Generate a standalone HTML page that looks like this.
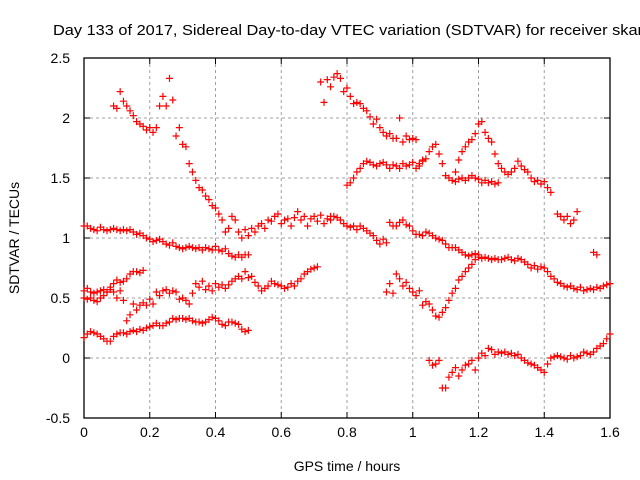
<!DOCTYPE html>
<html><head><meta charset="utf-8"><style>
body{margin:0;background:#fff;overflow:hidden;}
svg{display:block;font-family:"Liberation Sans",Arial,sans-serif;}
</style></head><body>
<svg id="chart" width="640" height="480" viewBox="0 0 640 480" xmlns="http://www.w3.org/2000/svg">
<text x="53" y="35" font-size="14.5" textLength="590" lengthAdjust="spacingAndGlyphs" fill="#000">Day 133 of 2017, Sidereal Day-to-day VTEC variation (SDTVAR) for receiver skar</text>
<g id="grid"></g>
<g id="axes"></g>
<g id="marks"></g>
<text transform="translate(19,238) rotate(-90)" text-anchor="middle" font-size="14">SDTVAR / TECUs</text>
<text x="347" y="471" text-anchor="middle" font-size="14">GPS time / hours</text>
</svg>
<script>
const xTicks=[0,0.2,0.4,0.6,0.8,1,1.2,1.4,1.6];
const xTickLabels=["0","0.2","0.4","0.6","0.8","1","1.2","1.4","1.6"];
const yTicks=[-0.5,0,0.5,1,1.5,2,2.5];
const yTickLabels=["-0.5","0","0.5","1","1.5","2","2.5"];
// series: top-left arc + descent
const s1x=[0.09,0.10,0.11,0.12,0.13,0.14,0.15,0.16,0.17,0.18,0.19,0.20,0.21,0.22,0.23,0.24,0.25,0.26,0.27,0.28,0.29,0.30,0.31,0.32,0.33,0.34,0.35,0.36,0.37,0.38,0.39,0.40,0.41,0.42,0.43,0.44,0.45,0.46,0.47,0.48,0.49,0.50,0.51,0.52,0.53,0.54,0.55,0.56,0.57,0.58,0.59,0.60,0.61,0.62,0.63,0.64,0.65,0.66,0.67,0.68,0.69,0.70,0.71,0.72,0.73,0.74,0.75];
const s1y=[2.10,2.08,2.22,2.14,2.10,2.06,2.02,1.97,1.95,1.93,1.90,1.92,1.88,1.92,2.10,2.18,2.10,2.33,2.15,1.85,1.92,1.78,1.76,1.62,1.55,1.48,1.42,1.40,1.35,1.32,1.27,1.25,1.20,1.15,1.05,1.08,1.18,1.15,1.05,1.00,1.07,1.02,1.08,1.05,1.10,1.12,1.08,1.15,1.14,1.18,1.20,1.12,1.15,1.16,1.10,1.17,1.22,1.15,1.18,1.10,1.16,1.18,1.14,1.19,1.12,1.16,1.18];
// series: ~1.1 declining line
const s2x=[0,0.01,0.02,0.03,0.04,0.05,0.06,0.07,0.08,0.09,0.10,0.11,0.12,0.13,0.14,0.15,0.16,0.17,0.18,0.19,0.20,0.21,0.22,0.23,0.24,0.25,0.26,0.27,0.28,0.29,0.30,0.31,0.32,0.33,0.34,0.35,0.36,0.37,0.38,0.39,0.40,0.41,0.42,0.43,0.44,0.45,0.46,0.47,0.48,0.49,0.50];
const s2y=[1.10,1.10,1.08,1.07,1.06,1.09,1.07,1.06,1.07,1.08,1.07,1.06,1.07,1.06,1.07,1.05,1.03,1.04,1.02,1.00,0.99,0.97,0.98,0.99,0.97,0.95,0.94,0.96,0.93,0.92,0.91,0.92,0.93,0.92,0.91,0.92,0.90,0.92,0.91,0.90,0.93,0.90,0.89,0.91,0.87,0.85,0.84,0.86,0.84,0.86,0.86];
// series: 0.55 rising to 0.7
const s3x=[0,0.01,0.02,0.03,0.04,0.05,0.06,0.07,0.08,0.09,0.10,0.11,0.12,0.13,0.14,0.15,0.16,0.17,0.18];
const s3y=[0.56,0.58,0.55,0.54,0.55,0.56,0.57,0.55,0.59,0.62,0.65,0.63,0.64,0.66,0.70,0.72,0.72,0.71,0.73];
// series: 0.5 wave across to 0.75
const s4x=[0,0.01,0.02,0.03,0.04,0.05,0.06,0.07,0.08,0.09,0.10,0.11,0.12,0.13,0.14,0.15,0.16,0.17,0.18,0.19,0.20,0.21,0.22,0.23,0.24,0.25,0.26,0.27,0.28,0.29,0.30,0.31,0.32,0.33,0.34,0.35,0.36,0.37,0.38,0.39,0.40,0.41,0.42,0.43,0.44,0.45,0.46,0.47,0.48,0.49,0.50,0.51,0.52,0.53,0.54,0.55,0.56,0.57,0.58,0.59,0.60,0.61,0.62,0.63,0.64,0.65,0.66,0.67,0.68,0.69,0.70,0.71,0.72,0.73];
const s4y=[0.50,0.49,0.50,0.48,0.47,0.50,0.52,0.55,0.57,0.55,0.50,0.56,0.48,0.31,0.36,0.45,0.40,0.44,0.46,0.44,0.49,0.45,0.55,0.52,0.56,0.57,0.54,0.56,0.55,0.49,0.50,0.48,0.45,0.54,0.62,0.59,0.64,0.57,0.60,0.56,0.62,0.59,0.61,0.58,0.61,0.64,0.66,0.68,0.66,0.72,0.67,0.68,0.63,0.60,0.56,0.58,0.60,0.64,0.62,0.61,0.60,0.58,0.59,0.62,0.60,0.64,0.66,0.70,0.72,0.74,0.75,0.76];
// series: ~0.2 lower band
const s5x=[0,0.01,0.02,0.03,0.04,0.05,0.06,0.07,0.08,0.09,0.10,0.11,0.12,0.13,0.14,0.15,0.16,0.17,0.18,0.19,0.20,0.21,0.22,0.23,0.24,0.25,0.26,0.27,0.28,0.29,0.30,0.31,0.32,0.33,0.34,0.35,0.36,0.37,0.38,0.39,0.40,0.41,0.42,0.43,0.44,0.45,0.46,0.47,0.48,0.49,0.50];
const s5y=[0.17,0.20,0.22,0.21,0.20,0.18,0.16,0.14,0.14,0.18,0.20,0.21,0.21,0.20,0.22,0.23,0.22,0.24,0.23,0.25,0.26,0.27,0.29,0.27,0.27,0.29,0.30,0.33,0.32,0.33,0.33,0.32,0.33,0.31,0.30,0.30,0.29,0.30,0.32,0.34,0.33,0.31,0.28,0.27,0.30,0.30,0.29,0.28,0.24,0.22,0.23];
// series: top right descending
const s6x=[0.72,0.73,0.74,0.75,0.76,0.77,0.78,0.79,0.80,0.81,0.82,0.83,0.84,0.85,0.86,0.87,0.88,0.89,0.90,0.91,0.92,0.93,0.94,0.95,0.96,0.97,0.98,0.99,1.00,1.01,1.02,1.03,1.13,1.14,1.15,1.16,1.17,1.18,1.19,1.20,1.21,1.22,1.23,1.24,1.25,1.26,1.27,1.28,1.29,1.30,1.31,1.32,1.33,1.34,1.35,1.36,1.37,1.38,1.39,1.40,1.41,1.42,1.44,1.45,1.46,1.47,1.48,1.49,1.50,1.55,1.56];
const s6y=[2.30,2.13,2.32,2.26,2.34,2.37,2.33,2.22,2.25,2.18,2.12,2.13,2.12,2.08,2.06,2.01,1.95,1.99,1.92,1.88,1.85,1.87,1.83,1.83,2.00,1.80,1.85,1.82,1.83,1.82,1.60,1.65,1.55,1.65,1.72,1.76,1.80,1.82,1.87,1.95,1.97,1.88,1.83,1.80,1.70,1.62,1.58,1.55,1.53,1.55,1.58,1.64,1.60,1.57,1.55,1.50,1.47,1.48,1.45,1.47,1.42,1.38,1.20,1.18,1.15,1.18,1.12,1.15,1.22,0.88,0.86];
// series: 1.45 -> 1.6 band
const s7x=[0.80,0.81,0.82,0.83,0.84,0.85,0.86,0.87,0.88,0.89,0.90,0.91,0.92,0.93,0.94,0.95,0.96,0.97,0.98,0.99,1.00,1.01,1.02,1.03,1.04,1.05,1.06,1.07,1.08,1.09,1.10,1.11,1.12,1.13,1.14,1.15,1.16,1.17,1.18,1.19,1.20,1.21,1.22,1.23,1.24,1.25,1.26];
const s7y=[1.44,1.46,1.50,1.55,1.58,1.62,1.64,1.63,1.61,1.60,1.62,1.63,1.61,1.58,1.61,1.60,1.58,1.62,1.60,1.61,1.63,1.58,1.62,1.64,1.66,1.72,1.76,1.78,1.70,1.62,1.52,1.50,1.48,1.47,1.49,1.50,1.48,1.50,1.52,1.50,1.49,1.46,1.48,1.46,1.47,1.45,1.46];
// series: 1.1 -> 0.6 right
const s8x=[0.75,0.76,0.77,0.78,0.79,0.80,0.81,0.82,0.83,0.84,0.85,0.86,0.87,0.88,0.89,0.90,0.91,0.92,0.93,0.94,0.95,0.96,0.97,0.98,0.99,1.00,1.01,1.02,1.03,1.04,1.05,1.06,1.07,1.08,1.09,1.10,1.11,1.12,1.13,1.14,1.15,1.16,1.17,1.18,1.19,1.20,1.21,1.22,1.23,1.24,1.25,1.26,1.27,1.28,1.29,1.30,1.31,1.32,1.33,1.34,1.35,1.36,1.37,1.38,1.39,1.40,1.41,1.42,1.43,1.44,1.45,1.46,1.47,1.48,1.49,1.50,1.51,1.52,1.53,1.54,1.55,1.56,1.57,1.58,1.59,1.60];
const s8y=[1.15,1.18,1.17,1.15,1.12,1.10,1.09,1.10,1.07,1.10,1.08,1.06,1.04,1.02,0.98,0.95,0.99,0.96,1.13,1.10,1.10,1.13,1.15,1.11,1.10,1.06,1.03,1.03,1.02,1.05,1.04,1.02,1.00,0.99,0.98,0.95,0.92,0.92,0.92,0.90,0.88,0.86,0.85,0.86,0.87,0.84,0.83,0.84,0.83,0.82,0.83,0.82,0.82,0.83,0.84,0.82,0.81,0.83,0.82,0.80,0.78,0.75,0.77,0.74,0.76,0.75,0.72,0.68,0.66,0.63,0.62,0.60,0.59,0.60,0.58,0.57,0.59,0.56,0.57,0.58,0.57,0.59,0.58,0.60,0.61,0.62];
// series: dip near 1.08
const s9x=[0.92,0.93,0.94,0.95,0.96,0.97,0.98,0.99,1.00,1.01,1.02,1.03,1.04,1.05,1.06,1.07,1.08,1.09,1.10,1.11,1.12,1.13,1.14,1.15,1.16,1.17,1.18,1.19,1.20];
const s9y=[0.55,0.62,0.54,0.70,0.66,0.60,0.63,0.58,0.55,0.52,0.56,0.44,0.47,0.45,0.40,0.35,0.34,0.38,0.42,0.48,0.54,0.58,0.65,0.68,0.72,0.75,0.78,0.82,0.86];
// series: lowest right band
const s10x=[1.05,1.06,1.07,1.08,1.09,1.10,1.11,1.12,1.13,1.14,1.15,1.16,1.17,1.18,1.19,1.20,1.21,1.22,1.23,1.24,1.25,1.26,1.27,1.28,1.29,1.30,1.31,1.32,1.33,1.34,1.35,1.36,1.37,1.38,1.39,1.40,1.41,1.42,1.43,1.44,1.45,1.46,1.47,1.48,1.49,1.50,1.51,1.52,1.53,1.54,1.55,1.56,1.57,1.58,1.59,1.60];
const s10y=[-0.02,-0.06,-0.05,-0.02,-0.25,-0.25,-0.16,-0.12,-0.08,-0.15,-0.10,-0.06,-0.05,-0.02,-0.10,0.00,0.04,0.02,0.08,0.07,0.03,0.05,0.04,0.05,0.03,0.04,0.02,0.03,0.00,-0.02,-0.04,-0.05,-0.06,-0.08,-0.10,-0.12,-0.05,0.00,0.01,0.02,0.01,0.00,-0.01,0.02,0.00,0.01,0.02,0.05,0.04,0.03,0.05,0.08,0.10,0.12,0.16,0.20];
const seriesX=[s1x,s2x,s3x,s4x,s5x,s6x,s7x,s8x,s9x,s10x];
const seriesY=[s1y,s2y,s3y,s4y,s5y,s6y,s7y,s8y,s9y,s10y];

const L=84,R=610,T=58,B=418,xmin=0,xmax=1.6,ymin=-0.5,ymax=2.5;
const X=v=>L+(v-xmin)/(xmax-xmin)*(R-L);
const Y=v=>B-(v-ymin)/(ymax-ymin)*(B-T);
const NS="http://www.w3.org/2000/svg";
function mk(t,a,p){const e=document.createElementNS(NS,t);for(const k in a)e.setAttribute(k,a[k]);p.appendChild(e);return e;}
const grid=document.getElementById('grid'),axes=document.getElementById('axes'),marks=document.getElementById('marks');
xTicks.forEach((v,i)=>{const x=X(v);
 if(i>0&&i<xTicks.length-1){const g=mk('line',{x1:x,x2:x,y1:T,y2:B,stroke:'#a0a0a0','stroke-dasharray':'3,3'},grid);
 
 }
 mk('line',{x1:x,x2:x,y1:B,y2:B-6,stroke:'#000'},axes);mk('line',{x1:x,x2:x,y1:T,y2:T+6,stroke:'#000'},axes);
 const t=mk('text',{x:x,y:B+19,'text-anchor':'middle','font-size':'14'},axes);t.textContent=xTickLabels[i];
 
 });
yTicks.forEach((v,i)=>{const y=Y(v);
 if(i>0&&i<yTicks.length-1){const g=mk('line',{x1:L,x2:R,y1:y,y2:y,stroke:'#a0a0a0','stroke-dasharray':'3,3'},grid);
 
 }
 mk('line',{x1:L,x2:L+6,y1:y,y2:y,stroke:'#000'},axes);mk('line',{x1:R,x2:R-6,y1:y,y2:y,stroke:'#000'},axes);
 const t=mk('text',{x:L-14,y:y+5,'text-anchor':'end','font-size':'14'},axes);t.textContent=yTickLabels[i];
 
 });
const frame=mk('rect',{x:L,y:T,width:R-L,height:B-T,fill:'none',stroke:'#000','stroke-width':1.3},axes);


seriesX.forEach((xs,si)=>{const ys=seriesY[si];let d='';
 xs.forEach((v,j)=>{const x=X(v),y=Y(ys[j]);d+=`M${x-3.5},${y}h7M${x},${y-3.5}v7`;});
 const p=mk('path',{d:d,stroke:'#ff0000','stroke-width':1.2,fill:'none'},marks);
 
 });
</script>
</body></html>
